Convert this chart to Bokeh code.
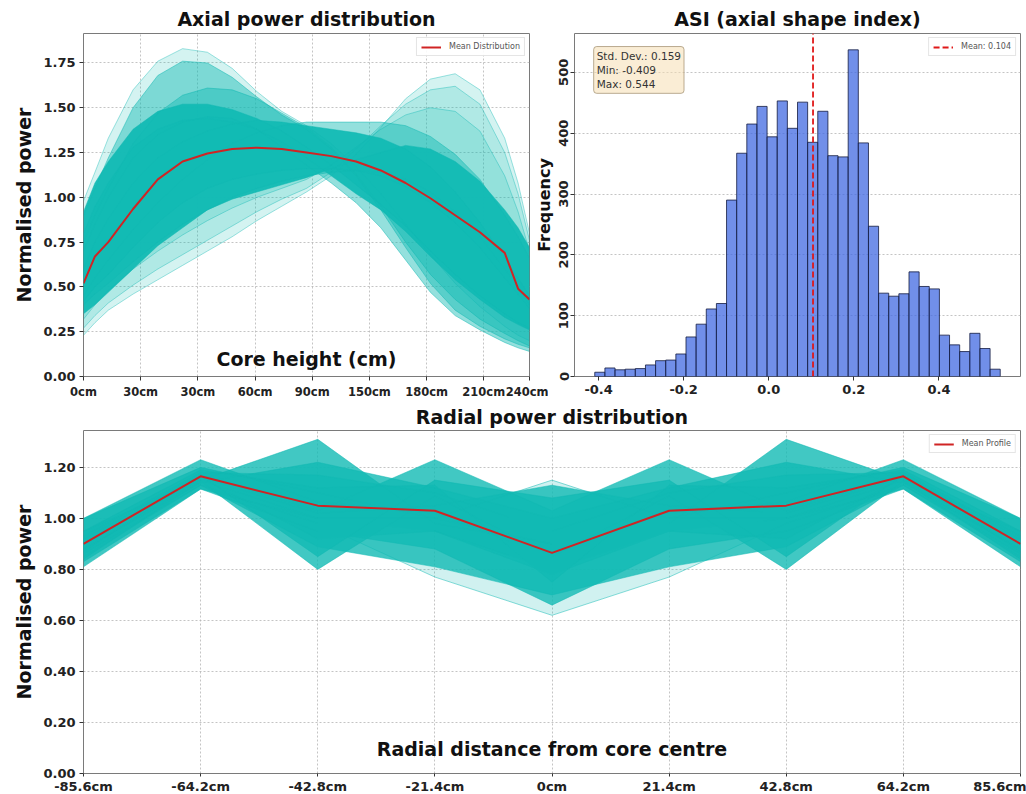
import numpy as np
from bokeh.plotting import figure
from bokeh.layouts import row, column
from bokeh.models import Range1d, FixedTicker, Label, Legend, LegendItem, NumeralTickFormatter
from bokeh.embed import file_html
from bokeh.resources import INLINE

# ---------------------------------------------------------------- data
# Axial power shapes sampled along core height (cm)
AX_X = [0, 6, 13, 26, 39, 52, 65, 78, 91, 104, 117, 130, 143, 156, 169, 182, 195, 208, 221, 228, 234]
AX_MEAN = [0.52, 0.67, 0.75, 0.935, 1.10, 1.20, 1.245, 1.27, 1.277, 1.27, 1.25, 1.23, 1.20, 1.15, 1.08,
           0.995, 0.90, 0.805, 0.69, 0.49, 0.43]

# bottom-peaked shapes
AX_PEAK_A1 = [0.98, 1.14, 1.33, 1.60, 1.76, 1.83, 1.81, 1.72, 1.59, 1.48, 1.40, 1.30, 1.17, 1.02, 0.85,
              0.68, 0.52, 0.39, 0.28, 0.23, 0.20]
AX_PEAK_A2 = [0.90, 1.05, 1.22, 1.50, 1.68, 1.76, 1.75, 1.67, 1.56, 1.46, 1.38, 1.27, 1.12, 0.93, 0.72,
              0.52, 0.37, 0.28, 0.21, 0.18, 0.16]
AX_PEAK_A3 = [0.75, 0.90, 1.05, 1.30, 1.47, 1.57, 1.61, 1.60, 1.55, 1.47, 1.39, 1.28, 1.13, 0.95, 0.75,
              0.57, 0.43, 0.32, 0.24, 0.20, 0.17]
AX_PEAK_A4 = [0.70, 0.85, 1.00, 1.22, 1.35, 1.42, 1.45, 1.44, 1.38, 1.28, 1.18, 1.08, 0.97, 0.83, 0.65,
              0.47, 0.34, 0.26, 0.19, 0.16, 0.14]
# top-peaked shapes
AX_TOP_B1 = [0.23, 0.30, 0.37, 0.46, 0.54, 0.62, 0.70, 0.78, 0.87, 0.95, 1.03, 1.12, 1.24, 1.39, 1.55,
             1.66, 1.69, 1.60, 1.33, 1.08, 0.80]
AX_TOP_B2 = [0.27, 0.34, 0.41, 0.51, 0.60, 0.68, 0.76, 0.84, 0.92, 0.99, 1.05, 1.14, 1.27, 1.40, 1.52,
             1.60, 1.62, 1.52, 1.25, 1.02, 0.76]
AX_TOP_B3 = [0.32, 0.40, 0.48, 0.60, 0.70, 0.79, 0.87, 0.94, 1.00, 1.05, 1.10, 1.18, 1.28, 1.38, 1.46,
             1.50, 1.48, 1.37, 1.12, 0.92, 0.70]
# flattened shapes
AX_FLAT_C5 = [0.45, 0.55, 0.65, 0.82, 0.97, 1.10, 1.21, 1.30, 1.36, 1.40, 1.42, 1.42, 1.42, 1.42, 1.40,
              1.34, 1.24, 1.10, 0.90, 0.78, 0.66]
AX_FLAT_D1 = [0.40, 0.46, 0.52, 0.64, 0.75, 0.85, 0.93, 1.00, 1.05, 1.09, 1.12, 1.14, 1.15, 1.14, 1.10,
              1.03, 0.92, 0.78, 0.60, 0.50, 0.40]
# bulk of the population
AX_CORE_K1 = [0.35, 0.40, 0.47, 0.60, 0.73, 0.83, 0.93, 0.99, 1.03, 1.07, 1.11, 1.16, 1.21, 1.25, 1.29,
              1.27, 1.20, 1.09, 0.93, 0.83, 0.72]
AX_CORE_K2 = [0.80, 0.95, 1.08, 1.28, 1.38, 1.43, 1.44, 1.42, 1.38, 1.31, 1.22, 1.12, 1.02, 0.93, 0.81,
              0.67, 0.54, 0.43, 0.33, 0.29, 0.26]
AX_CORE_K3 = [0.60, 0.75, 0.88, 1.08, 1.22, 1.31, 1.37, 1.41, 1.43, 1.42, 1.40, 1.38, 1.36, 1.33, 1.27,
              1.17, 1.03, 0.86, 0.66, 0.55, 0.45]
AX_CORE_K4 = [0.92, 1.08, 1.20, 1.38, 1.48, 1.52, 1.52, 1.49, 1.44, 1.37, 1.28, 1.18, 1.07, 0.96, 0.84,
              0.70, 0.57, 0.45, 0.35, 0.30, 0.27]
AX_CORE_K5 = [0.42, 0.50, 0.57, 0.72, 0.86, 0.97, 1.05, 1.10, 1.13, 1.15, 1.16, 1.16, 1.15, 1.12, 1.06,
              0.97, 0.86, 0.72, 0.55, 0.46, 0.38]

AX_TICKS = [0, 30, 60, 90, 120, 150, 180, 210, 234]
AX_TICK_LABELS = ["0cm", "30cm", "30cm", "60cm", "90cm", "150cm", "180cm", "210cm", "240cm"]

# Axial shape index histogram
ASI_COUNTS = [7, 14, 11, 12, 13, 19, 26, 27, 37, 65, 86, 111, 120, 290, 367, 415, 444, 394, 453, 408,
              451, 385, 436, 363, 361, 537, 384, 247, 137, 132, 136, 172, 148, 144, 68, 52, 41, 71, 46, 12]
ASI_MIN = -0.409
ASI_MAX = 0.544
ASI_MEAN = 0.104
ASI_STD = 0.159

# Radial profiles, given from the centre outwards and mirrored about the axis
RAD_HALF_X = [0.0, 21.4, 42.8, 64.2, 85.6]
RAD_MEAN = [0.865, 1.03, 1.05, 1.165, 0.90]
RAD_P01 = [0.90, 0.98, 1.31, 1.15, 0.95]
RAD_P02 = [0.85, 1.02, 1.065, 1.23, 1.00]
RAD_P03 = [1.03, 1.23, 1.03, 1.17, 0.92]
RAD_P04 = [1.13, 1.05, 1.02, 1.16, 0.90]
RAD_P05 = [0.85, 1.088, 0.80, 1.146, 0.84]
RAD_P06 = [0.70, 0.81, 0.889, 1.13, 0.86]
RAD_P07 = [0.66, 0.88, 0.95, 1.115, 0.83]
RAD_P08 = [0.80, 0.95, 1.00, 1.115, 0.81]
RAD_P09 = [0.90, 1.00, 1.10, 1.20, 1.00]
RAD_P10 = [0.95, 1.10, 1.17, 1.18, 0.93]
RAD_P11 = [0.78, 0.95, 0.92, 1.16, 0.90]
RAD_P12 = [1.00, 1.12, 1.22, 1.14, 0.88]
RAD_P13 = [0.75, 1.13, 1.12, 1.19, 0.95]
RAD_P14 = [1.08, 1.15, 0.85, 1.17, 0.87]
RAD_P15 = [1.15, 1.00, 1.00, 1.15, 0.88]
RAD_P16 = [0.62, 0.77, 0.98, 1.13, 0.85]

RAD_TICK_LABELS = ["-85.6cm", "-64.2cm", "-42.8cm", "-21.4cm", "0cm", "21.4cm", "42.8cm", "64.2cm", "85.6cm"]

# ---------------------------------------------------------------- style
FONT = "DejaVu Sans"
TEAL = "#12BAB4"
RED = "#D02424"
BAR = "#4169E1"


def style(p, ylabel_size="19px"):
    p.outline_line_color = "#7a7a7a"
    p.outline_line_width = 1
    for ax in (p.xaxis[0], p.yaxis[0]):
        ax.axis_line_color = None
        ax.major_tick_line_color = "#333333"
        ax.major_tick_out = 4
        ax.major_tick_in = 0
        ax.minor_tick_line_color = None
        ax.major_label_text_font = FONT
        ax.major_label_text_font_style = "bold"
        ax.major_label_text_font_size = "13px"
        ax.major_label_text_color = "#222222"
        ax.major_label_standoff = 4
        ax.axis_label_text_font = FONT
        ax.axis_label_text_font_style = "bold"
        ax.axis_label_text_color = "#111111"
    p.yaxis.axis_label_text_font_size = ylabel_size
    p.yaxis.axis_label_standoff = 5
    p.grid.grid_line_color = "#b5b5b5"
    p.grid.grid_line_dash = "2 2"
    p.grid.grid_line_width = 0.8
    p.title.text_font = FONT
    p.title.text_font_size = "19px"
    p.title.text_font_style = "bold"
    p.title.text_color = "#111111"
    p.title.align = "center"
    p.title.standoff = 7
    p.border_fill_alpha = 0
    p.background_fill_color = "white"


def small_legend(p, label, renderer):
    leg = Legend(items=[LegendItem(label=label, renderers=[renderer])], location="top_right")
    leg.label_text_font = FONT
    leg.label_text_font_size = "8px"
    leg.label_text_color = "#555555"
    leg.glyph_width = 20
    leg.glyph_height = 8
    leg.label_height = 8
    leg.label_standoff = 8
    leg.padding = 4
    leg.spacing = 0
    leg.margin = 4
    leg.border_line_color = "#cccccc"
    leg.background_fill_alpha = 0.9
    p.add_layout(leg)


def inner_xlabel(p, text, frac):
    xr, yr = p.x_range, p.y_range
    p.add_layout(Label(x=(xr.start + xr.end) / 2, y=yr.start + frac * (yr.end - yr.start), text=text,
                       text_align="center", text_baseline="middle", text_font=FONT,
                       text_font_size="19px", text_font_style="bold", text_color="#111111"))


# ---------------------------------------------------------------- axial distribution
faint = [AX_PEAK_A1, AX_TOP_B1, AX_TOP_B2, AX_TOP_B3]
medium = [AX_PEAK_A2, AX_PEAK_A3, AX_PEAK_A4, AX_FLAT_C5, AX_FLAT_D1]
core = [AX_CORE_K1, AX_CORE_K2, AX_CORE_K3, AX_CORE_K4, AX_CORE_K5]
all_ax = faint + medium + core
ax_lo = min(min(c) for c in all_ax)
ax_hi = max(max(c) for c in all_ax)

p1 = figure(frame_width=446, frame_height=343, min_border_left=83, min_border_right=19,
            min_border_top=33, min_border_bottom=24,
            x_range=Range1d(AX_X[0], AX_X[-1]), y_range=Range1d(0, ax_hi + 0.05 * (ax_hi - ax_lo)),
            title="Axial power distribution", output_backend="svg", toolbar_location=None)
style(p1)
for group, fa in ((faint, 0.18), (medium, 0.45), (core, 0.95)):
    for curve in group:
        p1.varea(x=AX_X, y1=curve, y2=AX_MEAN, fill_color=TEAL, fill_alpha=fa)
for group, la in ((faint, 0.4), (medium, 0.5), (core, 0.5)):
    for curve in group:
        p1.line(AX_X, curve, line_color=TEAL, line_alpha=la, line_width=1)
mean_ax = p1.line(AX_X, AX_MEAN, line_color=RED, line_width=2)
p1.xaxis.ticker = FixedTicker(ticks=AX_TICKS)
p1.xaxis.major_label_overrides = {t: s for t, s in zip(AX_TICKS, AX_TICK_LABELS)}
p1.xaxis.major_label_text_font_size = "11.5px"
p1.yaxis.ticker = FixedTicker(ticks=[0, 0.25, 0.5, 0.75, 1.0, 1.25, 1.5, 1.75])
p1.yaxis.formatter = NumeralTickFormatter(format="0.00")
p1.yaxis.axis_label = "Normalised power"
small_legend(p1, "Mean Distribution", mean_ax)
inner_xlabel(p1, "Core height (cm)", 0.052)

# ---------------------------------------------------------------- ASI histogram
edges = np.linspace(ASI_MIN, ASI_MAX, len(ASI_COUNTS) + 1)
span = ASI_MAX - ASI_MIN
y_top = max(ASI_COUNTS) * 1.05
p2 = figure(frame_width=446, frame_height=343, min_border_left=48, min_border_right=6,
            min_border_top=33, min_border_bottom=24,
            x_range=Range1d(ASI_MIN - 0.05 * span, ASI_MAX + 0.05 * span), y_range=Range1d(0, y_top),
            title="ASI (axial shape index)", output_backend="svg", toolbar_location=None,
            styles={"margin-left": "-22px"})
style(p2, ylabel_size="16px")
p2.xgrid.visible = False
p2.quad(left=edges[:-1], right=edges[1:], bottom=0, top=ASI_COUNTS, fill_color=BAR, fill_alpha=0.75,
        line_color="#141c40", line_alpha=0.8, line_width=1)
mean_line = p2.line([ASI_MEAN, ASI_MEAN], [0, y_top], line_color="#E01818", line_width=1.8,
                    line_dash="6 3")
p2.xaxis.ticker = FixedTicker(ticks=[-0.4, -0.2, 0.0, 0.2, 0.4])
p2.xaxis.formatter = NumeralTickFormatter(format="0.0")
p2.yaxis.ticker = FixedTicker(ticks=[0, 100, 200, 300, 400, 500])
p2.yaxis.major_label_orientation = "vertical"
p2.yaxis.major_label_standoff = 2
p2.yaxis.axis_label = "Frequency"
p2.yaxis.axis_label_standoff = 3
small_legend(p2, f"Mean: {ASI_MEAN:.3f}", mean_line)
xr2 = p2.x_range
p2.add_layout(Label(x=xr2.start + 0.043 * (xr2.end - xr2.start), y=y_top * 0.962,
                    text=f"Std. Dev.: {ASI_STD:.3f}\nMin: {ASI_MIN:.3f}\nMax: {ASI_MAX:.3f}",
                    text_align="left", text_baseline="top", text_font=FONT, text_font_size="10.5px",
                    text_color="#333333", background_fill_color="wheat", background_fill_alpha=0.55,
                    border_line_color="#9c8a6a", border_line_alpha=0.7, padding=3, border_radius=3))

# ---------------------------------------------------------------- radial distribution
def mirrored(half):
    return list(reversed(half)) + list(half[1:])

rad_x = [-v for v in reversed(RAD_HALF_X)] + RAD_HALF_X[1:]
rad_mean = mirrored(RAD_MEAN)
rad_main = [RAD_P01, RAD_P02, RAD_P03, RAD_P04, RAD_P05, RAD_P06, RAD_P07, RAD_P08, RAD_P09,
            RAD_P10, RAD_P11, RAD_P12, RAD_P13, RAD_P14]
rad_faint = [RAD_P15, RAD_P16]
r_lo = min(min(c) for c in rad_main + rad_faint)
r_hi = max(max(c) for c in rad_main + rad_faint)

p3 = figure(frame_width=937, frame_height=343, min_border_left=83, min_border_right=6,
            min_border_top=28, min_border_bottom=23,
            x_range=Range1d(rad_x[0], rad_x[-1]), y_range=Range1d(0, r_hi + 0.05 * (r_hi - r_lo)),
            title="Radial power distribution", output_backend="svg", toolbar_location=None)
style(p3)
p3.title.standoff = 5
for half in rad_faint:
    p3.varea(x=rad_x, y1=mirrored(half), y2=rad_mean, fill_color=TEAL, fill_alpha=0.2)
for half in rad_main:
    p3.varea(x=rad_x, y1=mirrored(half), y2=rad_mean, fill_color=TEAL, fill_alpha=0.8)
for half in rad_main + rad_faint:
    p3.line(rad_x, mirrored(half), line_color=TEAL, line_alpha=0.5, line_width=1)
mean_rad = p3.line(rad_x, rad_mean, line_color=RED, line_width=2)
p3.xaxis.ticker = FixedTicker(ticks=rad_x)
p3.xaxis.major_label_overrides = {t: s for t, s in zip(rad_x, RAD_TICK_LABELS)}
p3.xaxis.major_label_standoff = 2
p3.xaxis.major_tick_out = 3
p3.yaxis.ticker = FixedTicker(ticks=[0, 0.2, 0.4, 0.6, 0.8, 1.0, 1.2])
p3.yaxis.formatter = NumeralTickFormatter(format="0.00")
p3.yaxis.axis_label = "Normalised power"
small_legend(p3, "Mean Profile", mean_rad)
inner_xlabel(p3, "Radial distance from core centre", 0.07)

layout = column(row(p1, p2), p3)
open("out.html", "w").write(file_html(layout, INLINE))
